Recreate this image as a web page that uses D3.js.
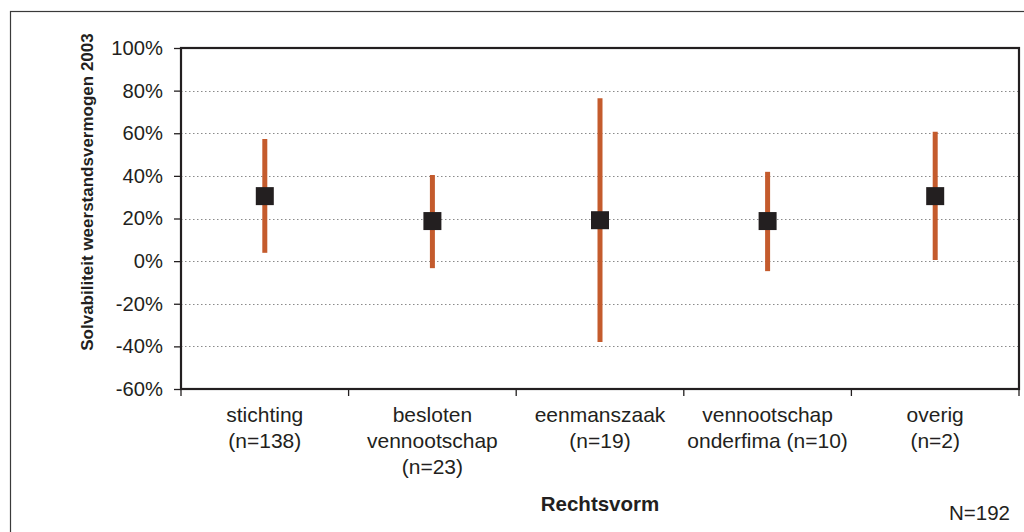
<!DOCTYPE html>
<html>
<head>
<meta charset="utf-8">
<script src="https://cdn.jsdelivr.net/npm/d3@7"></script>
<style>
  html, body { margin: 0; padding: 0; background: #fff; }
  svg { display: block; }
  text { font-family: "Liberation Sans", Arial, sans-serif; fill: #231f20; }
</style>
</head>
<body>
<svg id="chart" width="1024" height="532"></svg>
<script>
// ---- data ----
const categories = [
  ["stichting", "(n=138)"],
  ["besloten", "vennootschap", "(n=23)"],
  ["eenmanszaak", "(n=19)"],
  ["vennootschap", "onderfima (n=10)"],
  ["overig", "(n=2)"]
];
const categoryKeys = ["stichting", "besloten vennootschap", "eenmanszaak", "vennootschap onderfima", "overig"];
const meanValues = [0.305, 0.188, 0.192, 0.188, 0.305];
const lowValues  = [0.039, -0.033, -0.379, -0.047, 0.005];
const highValues = [0.573, 0.404, 0.764, 0.419, 0.607];
const yTicks = [-0.6, -0.4, -0.2, 0, 0.2, 0.4, 0.6, 0.8, 1.0];
const yTitle = "Solvabiliteit weerstandsvermogen 2003";
const xTitle = "Rechtsvorm";
const noteText = "N=192";

// ---- layout ----
const svg = d3.select("#chart");
const plot = { left: 181, right: 1019, top: 48, bottom: 389 };

// outer frame
svg.append("rect")
  .attr("x", 10.5).attr("y", 11.5)
  .attr("width", 1030).attr("height", 540)
  .attr("fill", "none").attr("stroke", "#3a3a3a").attr("stroke-width", 1.2);

const x = d3.scaleBand().domain(categoryKeys).range([plot.left, plot.right]).padding(0);
const y = d3.scaleLinear().domain([-0.6, 1.0]).range([plot.bottom, plot.top]);

// gridlines
svg.append("g").selectAll("line")
  .data(yTicks.filter(t => t > -0.6 && t < 1.0))
  .join("line")
  .attr("x1", plot.left).attr("x2", plot.right)
  .attr("y1", d => Math.round(y(d)) + 0.5).attr("y2", d => Math.round(y(d)) + 0.5)
  .attr("stroke", "#8a8a8a").attr("stroke-width", 1)
  .attr("stroke-dasharray", "1.5,2.5");

// y axis
const yAxis = d3.axisLeft(y).tickValues(yTicks)
  .tickFormat(d => Math.round(d * 100) + "%")
  .tickSize(7).tickPadding(11);
const gy = svg.append("g").attr("transform", `translate(${plot.left},0)`).call(yAxis);
gy.select(".domain").remove();
gy.selectAll(".tick line").attr("stroke", "#231f20").attr("stroke-width", 1.3);
gy.selectAll(".tick text").style("font-size", "20.2px").attr("fill", "#231f20")
  .style("font-family", "Liberation Sans, Arial, sans-serif");

// x axis ticks at band boundaries
const boundaries = categoryKeys.map(k => x(k)).concat([plot.right]);
svg.append("g").selectAll("line")
  .data(boundaries)
  .join("line")
  .attr("x1", d => d).attr("x2", d => d)
  .attr("y1", plot.bottom).attr("y2", plot.bottom + 7)
  .attr("stroke", "#231f20").attr("stroke-width", 1.3);

// plot border
svg.append("rect")
  .attr("x", plot.left).attr("y", plot.top)
  .attr("width", plot.right - plot.left).attr("height", plot.bottom - plot.top)
  .attr("fill", "none").attr("stroke", "#231f20").attr("stroke-width", 2.2);

// category labels
const labels = svg.append("g");
categories.forEach((lines, i) => {
  const cx = x(categoryKeys[i]) + x.bandwidth() / 2;
  const t = labels.append("text")
    .attr("text-anchor", "middle")
    .style("font-size", "21px");
  lines.forEach((ln, j) => {
    t.append("tspan").attr("x", cx).attr("y", 422 + j * 26).text(ln);
  });
});

// error bars
const data = categoryKeys.map((k, i) => ({ k, m: meanValues[i], lo: lowValues[i], hi: highValues[i] }));
svg.append("g").selectAll("line")
  .data(data)
  .join("line")
  .attr("x1", d => x(d.k) + x.bandwidth() / 2)
  .attr("x2", d => x(d.k) + x.bandwidth() / 2)
  .attr("y1", d => y(d.hi)).attr("y2", d => y(d.lo))
  .attr("stroke", "#c45b2d").attr("stroke-width", 5);

// mean markers
const sq = 18;
svg.append("g").selectAll("rect")
  .data(data)
  .join("rect")
  .attr("x", d => x(d.k) + x.bandwidth() / 2 - sq / 2)
  .attr("y", d => y(d.m) - sq / 2)
  .attr("width", sq).attr("height", sq)
  .attr("fill", "#231f20");

// axis titles
svg.append("text")
  .attr("transform", "translate(93,192) rotate(-90)")
  .attr("text-anchor", "middle")
  .style("font-size", "17px").style("font-weight", "bold")
  .text(yTitle);

svg.append("text")
  .attr("x", 600).attr("y", 511)
  .attr("text-anchor", "middle")
  .style("font-size", "20.5px").style("font-weight", "bold")
  .text(xTitle);

svg.append("text")
  .attr("x", 1010).attr("y", 520)
  .attr("text-anchor", "end")
  .style("font-size", "20.5px")
  .text(noteText);
</script>
</body>
</html>
